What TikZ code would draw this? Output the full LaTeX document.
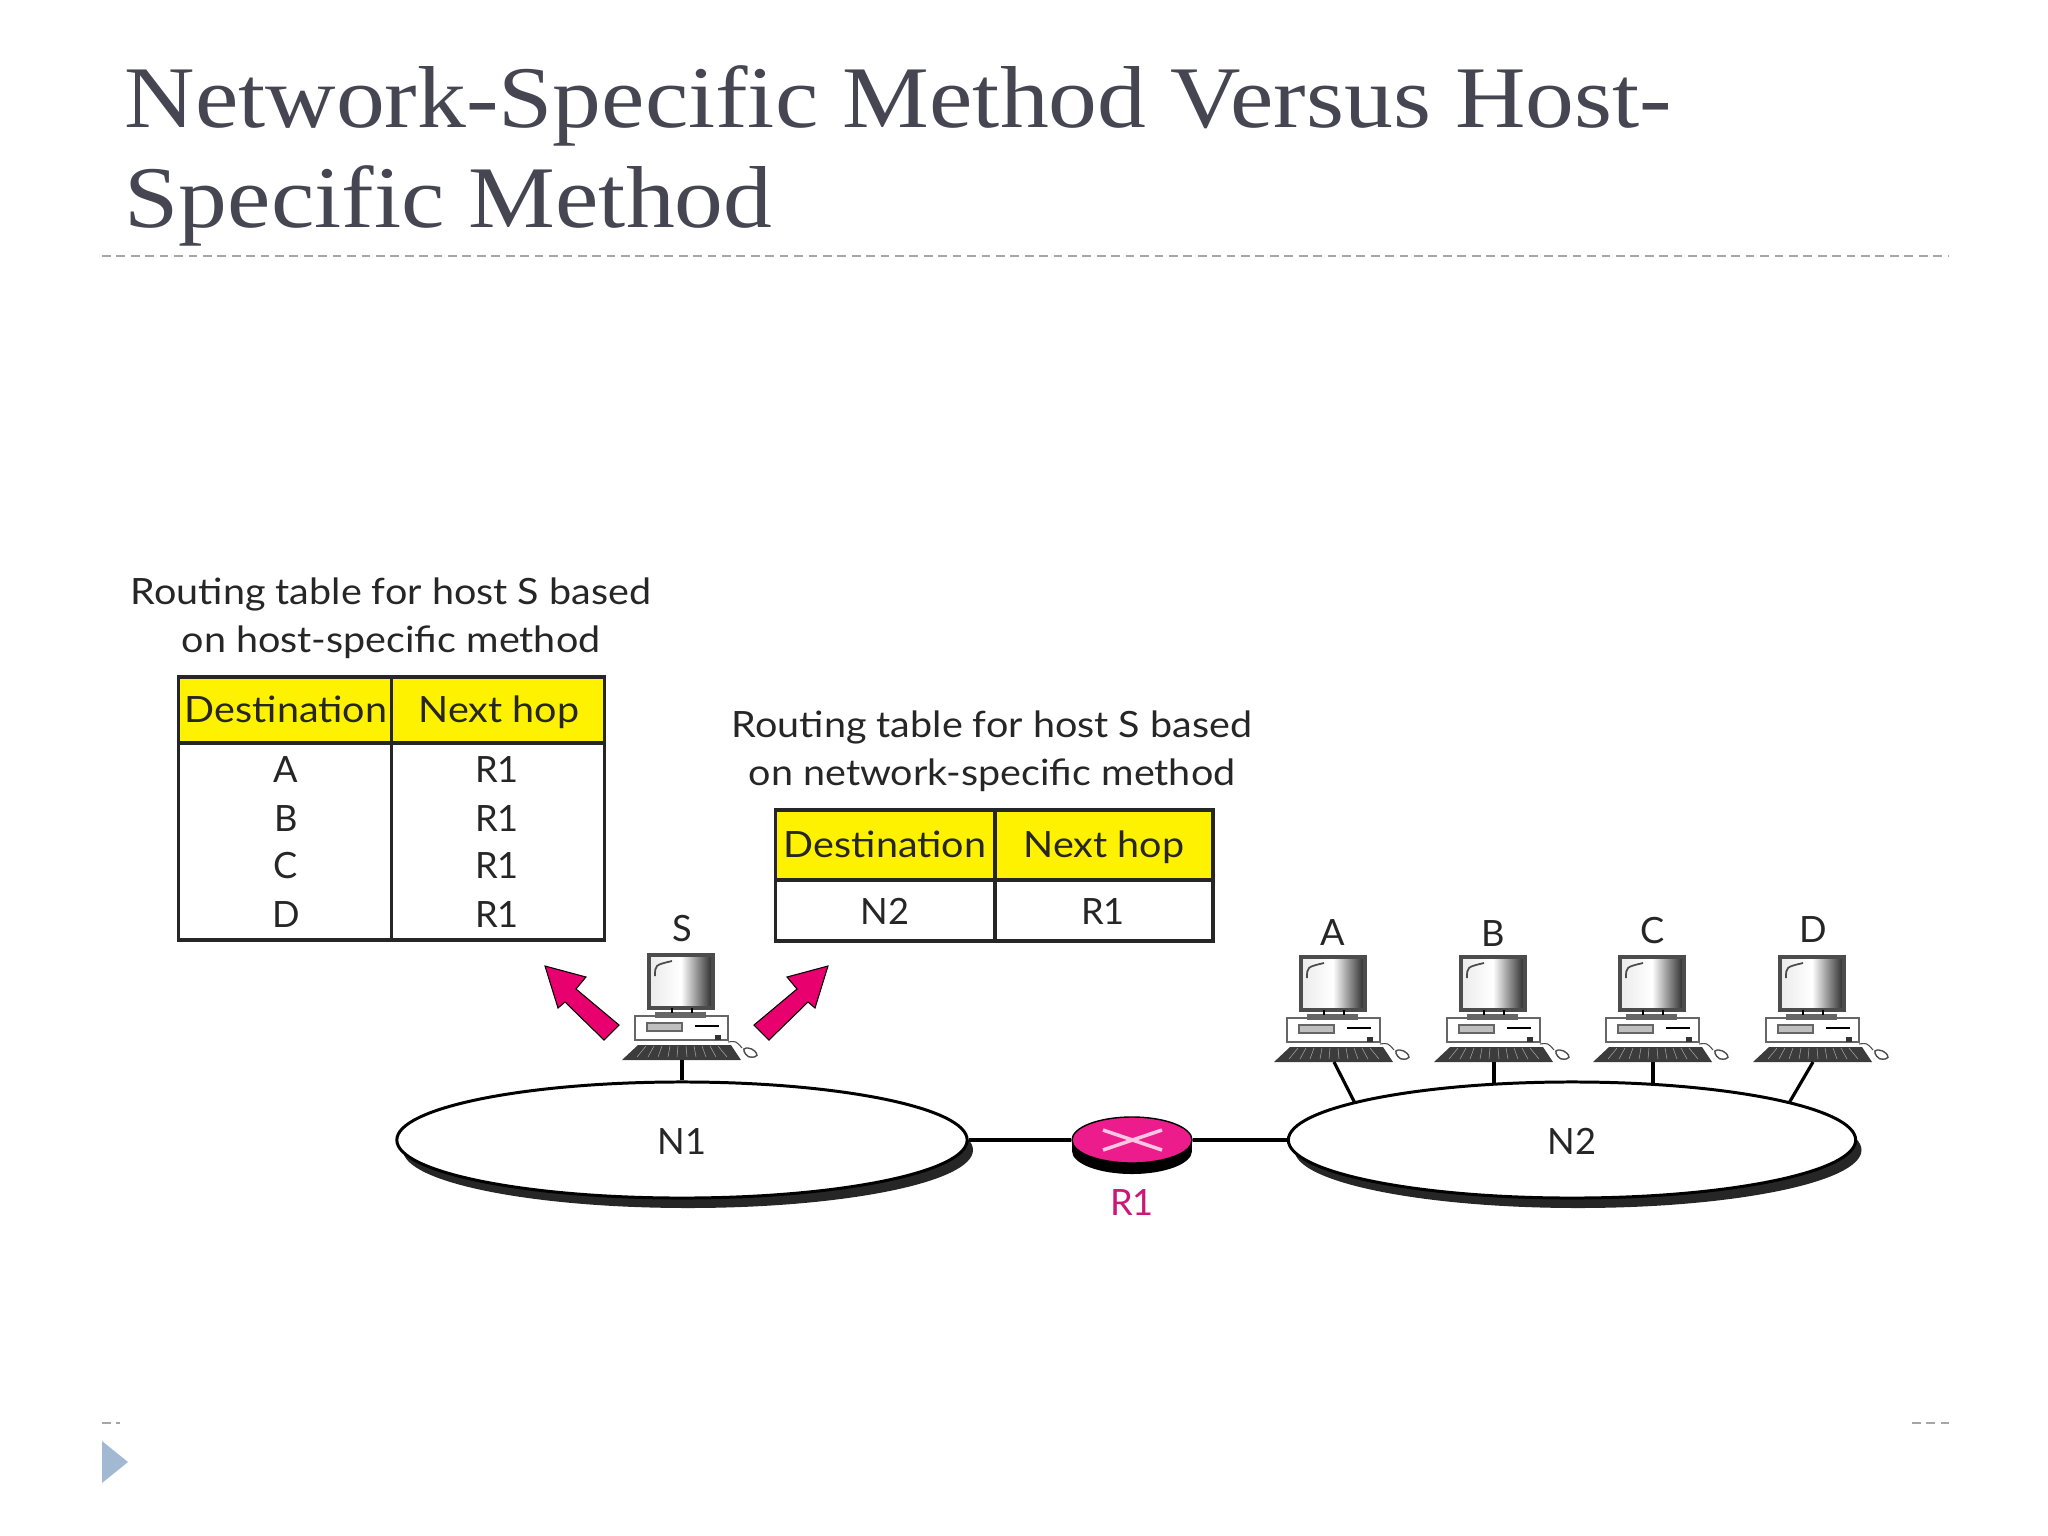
\documentclass[tikz,border=0pt]{standalone}
\usepackage{fontspec}
\setmainfont{Lato}
\newfontfamily\widefont[FakeStretch=1.09]{Lato}
\newfontfamily\titlefont[FakeStretch=1.11]{Liberation Serif}
\usetikzlibrary{shapes,arrows,positioning}

\definecolor{titlegray}{HTML}{464653}
\definecolor{routerpink}{HTML}{EC1C8C}
\definecolor{arrowpink}{HTML}{E8006F}
\definecolor{markblue}{HTML}{A2B9D3}
\definecolor{inkgray}{HTML}{262626}

\tikzset{
    cellbody/.style={draw=inkgray,line width=0.9pt,inner sep=0pt},
    cellhead/.style={cellbody,fill=yellow},
    celltext/.style={text=inkgray,font=\fontsize{10.3}{12}\selectfont,inner sep=0pt,
        text height=1.45ex,text depth=0pt},
    headtext/.style={celltext,font=\widefont\fontsize{10.3}{12}\selectfont},
    caption/.style={text=inkgray,inner sep=0pt,align=center,font=\widefont\fontsize{10.3}{13.7}\selectfont},
    netcloud/.style={ellipse,draw=black,fill=white,line width=0.85pt,inner sep=0pt,
        minimum height=1.16cm},
    wire/.style={line width=0.9pt,black},
    rulemark/.style={black!35,dash pattern=on 2.5pt off 1.6pt,line width=0.45pt},
    pics/pccomp/.style={code={
        % 键盘
        \fill[inkgray!90] (-60,0) -- (-44,-15) -- (49,-15) -- (59,0) -- cycle;
        \draw[black!35,line width=0.15pt] (-36,-14) -- (-45,-3) (-28,-14) -- (-34,-3)
            (-20,-14) -- (-24,-3) (-12,-14) -- (-14,-3) (-4,-14) -- (-5,-3)
            (4,-14) -- (5,-3) (12,-14) -- (14,-3) (20,-14) -- (24,-3)
            (28,-14) -- (34,-3) (36,-14) -- (45,-3);
        % 主机
        \draw[fill=white,draw=black!60,line width=0.5pt] (-47,-44) rectangle (46,-20);
        \draw[fill=black!25,draw=black!60,line width=0.3pt] (-35,-37) rectangle (0,-29);
        \draw[line width=0.8pt] (13,-34) -- (37,-34);
        \fill[black!80] (33,-25) rectangle (39,-20);
        % 显示器
        \draw[fill=black!60,draw=black!60,line width=0.3pt] (-26,-47) rectangle (23,-43);
        \draw[left color=black!8,right color=black!85,middle color=white,line width=1pt,draw=black!70]
            (-33,-105) rectangle (31,-52);
        \draw[black!70,line width=0.5pt] (-27,-84) .. controls (-27,-95) .. (-10,-99);
        \draw[line width=0.4pt] (-10,-52) -- (-10,-47) (10,-52) -- (10,-47);
        % 鼠标
        \draw[black!70,line width=0.3pt] (46,-18) .. controls (54,-19) .. (60,-12);
        \draw[black!70,line width=0.4pt,rounded corners=1.2pt] (60,-12) -- (70,-12) -- (77,-4) -- (66,-2) -- cycle;
        \coordinate (-wire) at (0,0);
    }}
}

\begin{document}
\begin{tikzpicture}[x=0.01cm,y=-0.01cm]
    \useasboundingbox (0,0) rectangle (2048,1536);

    % 标题
    \node[anchor=north west,align=left,inner sep=0pt,text=titlegray,
        font=\titlefont\fontsize{25}{28.45}\selectfont] (title) at (124,65)
        {Network-Specific Method Versus Host-\\Specific Method};
    \coordinate (ruleL) at (102,256);
    \coordinate (ruleR) at (1948,256);
    \draw[rulemark] (ruleL) -- (ruleR);

    % 页脚
    \coordinate (footL) at (102,1423);
    \coordinate (footLe) at (120,1423);
    \coordinate (footR) at (1912,1423);
    \coordinate (footRe) at (1949,1423);
    \draw[rulemark] (footL) -- (footLe);
    \draw[rulemark] (footR) -- (footRe);
    \fill[markblue] (102,1441) -- (128,1462) -- (102,1483) -- cycle;

    % 主机路由表
    \node[caption] (capHost) at (391,618) {Routing table for host S based\\on host-specific method};
    \node[cellhead,minimum width=2.13cm,minimum height=0.66cm] (headHostA) at (285,710) {};
    \node[cellhead,minimum width=2.13cm,minimum height=0.66cm] (headHostB) at (498,710) {};
    \node[cellbody,minimum width=2.13cm,minimum height=1.97cm] (bodyHostA) at (285,841.5) {};
    \node[cellbody,minimum width=2.13cm,minimum height=1.97cm] (bodyHostB) at (498,841.5) {};
    \node[headtext] at (286,710) {Destination};
    \node[headtext] at (499,710) {Next hop};
    \node[celltext] at (286,770) {A};
    \node[celltext] at (286,819) {B};
    \node[celltext] at (286,866) {C};
    \node[celltext] at (286,915) {D};
    \node[celltext] at (497,770) {R1};
    \node[celltext] at (497,819) {R1};
    \node[celltext] at (497,866) {R1};
    \node[celltext] at (497,915) {R1};

    % 网络路由表
    \node[caption] (capNet) at (992,751) {Routing table for host S based\\on network-specific method};
    \node[cellhead,minimum width=2.19cm,minimum height=0.70cm] (headNetA) at (885,845) {};
    \node[cellhead,minimum width=2.18cm,minimum height=0.70cm] (headNetB) at (1104,845) {};
    \node[cellbody,minimum width=2.19cm,minimum height=0.61cm] (bodyNetA) at (885,910.5) {};
    \node[cellbody,minimum width=2.18cm,minimum height=0.61cm] (bodyNetB) at (1104,910.5) {};
    \node[headtext] at (885,845) {Destination};
    \node[headtext] at (1104,845) {Next hop};
    \node[celltext] at (885,912) {N2};
    \node[celltext] at (1103,912) {R1};

    % 粉色箭头
    \draw[fill=arrowpink,line width=0.3pt] (754,1025) -- (797,989) -- (787,977) -- (828,966)
        -- (815,1008) -- (808,1002) -- (769,1040) -- cycle;
    \draw[fill=arrowpink,line width=0.3pt] (619,1025) -- (576,989) -- (586,977) -- (545,966)
        -- (558,1008) -- (565,1002) -- (604,1040) -- cycle;

    % 网络
    \fill[inkgray] (688,1150) ellipse (285 and 58);
    \fill[inkgray] (1578,1150) ellipse (283.5 and 58);
    \node[netcloud,minimum width=5.7cm] (N1) at (682,1140) {};
    \node[netcloud,minimum width=5.67cm] (N2) at (1572,1140) {};
    \node[celltext] at (682,1142) {N1};
    \node[celltext] at (1572,1142) {N2};

    % 路由器
    \fill[black] (1132,1151) ellipse (60 and 23);
    \fill[black] (1072,1140) rectangle (1192,1151);
    \node[ellipse,fill=routerpink,draw=black,line width=0.4pt,inner sep=0pt,
        minimum width=1.2cm,minimum height=0.46cm] (R1) at (1132,1140) {};
    \draw[routerpink!25,line width=1pt] (1103,1130) -- (1162,1150);
    \draw[routerpink!25,line width=1pt] (1103,1150) -- (1162,1130);
    \node[celltext,text=routerpink!85!black] at (1132,1203) {R1};
    \draw[wire] (N1.east) -- (R1.west);
    \draw[wire] (R1.east) -- (N2.west);

    % 主机
    \pic (S) at (682,1060) {pccomp};
    \pic (A) at (1334,1062) {pccomp};
    \pic (B) at (1494,1062) {pccomp};
    \pic (C) at (1653,1062) {pccomp};
    \pic (D) at (1813,1062) {pccomp};
    \node[celltext] at (682,929) {S};
    \node[celltext] at (1333,933) {A};
    \node[celltext] at (1493,934) {B};
    \node[celltext] at (1653,931) {C};
    \node[celltext] at (1813,930) {D};
    \draw[wire] (S-wire) -- (S-wire |- N1.north);
    \draw[wire] (A-wire) -- (N2.170);
    \draw[wire] (B-wire) -- (B-wire |- N2.144.7);
    \draw[wire] (C-wire) -- (C-wire |- N2.35);
    \draw[wire] (D-wire) -- (N2.10);
\end{tikzpicture}
\end{document}
